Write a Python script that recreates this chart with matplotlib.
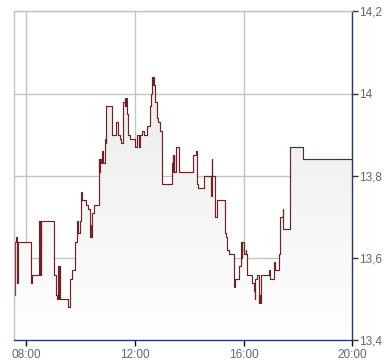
import matplotlib
matplotlib.use("Agg")
import matplotlib.pyplot as plt
import numpy as np
from matplotlib.colors import LinearSegmentedColormap

# intraday price (time, price)
times = ["07:35", "07:36", "07:37", "07:40", "07:42", "08:10", "08:12", "08:29", "08:30", "08:31",
         "08:32", "08:33", "09:02", "09:05", "09:08", "09:11", "09:12", "09:13", "09:14", "09:33",
         "09:36", "09:41", "09:47", "09:51", "09:55", "09:58", "10:01", "10:02", "10:03", "10:04",
         "10:12", "10:16", "10:20", "10:21", "10:22", "10:23", "10:26", "10:29", "10:40", "10:41",
         "10:42", "10:46", "10:48", "10:50", "10:54", "10:56", "10:57", "11:10", "11:19", "11:23",
         "11:27", "11:29", "11:34", "11:38", "11:39", "11:40", "11:42", "11:45", "11:49", "12:00",
         "12:05", "12:10", "12:11", "12:16", "12:20", "12:27", "12:34", "12:36", "12:38", "12:39",
         "12:40", "12:42", "12:44", "12:49", "12:51", "12:55", "13:00", "13:22", "13:24", "13:25",
         "13:26", "13:27", "13:30", "13:38", "14:08", "14:14", "14:16", "14:18", "14:19", "14:33",
         "14:49", "14:50", "14:51", "14:57", "15:02", "15:18", "15:22", "15:24", "15:27", "15:39",
         "15:40", "15:41", "15:42", "15:49", "15:55", "15:56", "15:57", "16:00", "16:05", "16:06",
         "16:07", "16:19", "16:23", "16:24", "16:25", "16:30", "16:34", "16:35", "16:36", "16:39",
         "16:55", "16:58", "17:06", "17:07", "17:08", "17:09", "17:17", "17:20", "17:27", "17:28",
         "17:43", "18:11", "20:00"]
prices = [13.51, 13.64, 13.65, 13.54, 13.64, 13.54, 13.56, 13.69, 13.56, 13.69,
          13.56, 13.69, 13.56, 13.51, 13.50, 13.58, 13.50, 13.58, 13.50, 13.48,
          13.55, 13.57, 13.64, 13.69, 13.66, 13.69, 13.76, 13.74, 13.76, 13.74,
          13.73, 13.72, 13.68, 13.65, 13.68, 13.65, 13.71, 13.73, 13.84, 13.81,
          13.84, 13.83, 13.86, 13.83, 13.89, 13.88, 13.97, 13.90, 13.93, 13.90,
          13.89, 13.88, 13.98, 13.99, 13.97, 13.99, 13.95, 13.90, 13.89, 13.87,
          13.90, 13.87, 13.90, 13.91, 13.90, 13.92, 13.97, 14.00, 14.04, 14.02,
          14.04, 14.02, 13.98, 13.94, 13.93, 13.91, 13.78, 13.83, 13.85, 13.81,
          13.85, 13.81, 13.87, 13.81, 13.85, 13.86, 13.83, 13.78, 13.77, 13.80,
          13.75, 13.84, 13.80, 13.70, 13.74, 13.66, 13.65, 13.62, 13.61, 13.53,
          13.55, 13.53, 13.55, 13.58, 13.64, 13.60, 13.64, 13.61, 13.62, 13.61,
          13.56, 13.54, 13.52, 13.50, 13.55, 13.56, 13.49, 13.51, 13.49, 13.56,
          13.57, 13.55, 13.59, 13.57, 13.59, 13.57, 13.61, 13.70, 13.72, 13.67,
          13.87, 13.84, 13.84]

y_ticks = [13.4, 13.6, 13.8, 14.0, 14.2]
y_labels = ["13,4", "13,6", "13,8", "14", "14,2"]
x_ticks = ["08:00", "12:00", "16:00", "20:00"]


def to_hours(t):
    h, m = t.split(":")
    return int(h) + int(m) / 60


x = np.array([to_hours(t) for t in times])
y = np.array(prices)

navy = "#1f3c6e"
grid_col = "#c4c4c4"

fig = plt.figure(figsize=(3.9, 3.64), dpi=100)
ax = fig.add_axes([0.0367, 0.0651, 0.8667, 0.9038])
x0, x1 = 7.56, 20.0

# gradient fill under the step line
cmap = LinearSegmentedColormap.from_list("fade", ["#ffffff", "#ebebeb"])
grad = np.linspace(0, 1, 256).reshape(-1, 1)
im = ax.imshow(grad, extent=[x0, x1, 13.4, 14.05], aspect="auto", cmap=cmap,
               origin="lower", zorder=1, interpolation="bilinear")
area = ax.fill_between(x, y, 13.4, step="post", facecolor="none", edgecolor="none")
im.set_clip_path(area.get_paths()[0], ax.transData)
ax.set_xlim(x0, x1)
ax.set_ylim(13.4, 14.2)

ax.step(x, y, where="post", color="#6e2226", lw=0.85, zorder=3)

ax.set_yticks(y_ticks)
ax.set_yticklabels(y_labels)
ax.set_xticks([to_hours(t) for t in x_ticks])
ax.set_xticklabels(x_ticks)
ax.yaxis.tick_right()
ax.grid(True, color=grid_col, lw=1.0, zorder=0)
ax.set_axisbelow(True)

ax.tick_params(axis="y", direction="out", length=4, width=1, color="#333333", pad=1,
               labelsize=8.5, labelcolor="#666666")
ax.tick_params(axis="x", direction="out", length=4, width=1, color="#111111", pad=2,
               labelsize=8.5, labelcolor="#666666")
for lab in ax.get_xticklabels() + ax.get_yticklabels():
    lab.set_fontfamily("Liberation Sans")

ax.spines["left"].set_color(grid_col)
ax.spines["top"].set_color(grid_col)
ax.spines["right"].set_color(navy)
ax.spines["bottom"].set_color(navy)
for s in ax.spines.values():
    s.set_linewidth(1.0)
    s.set_zorder(4)

fig.savefig("out.png", dpi=100)
